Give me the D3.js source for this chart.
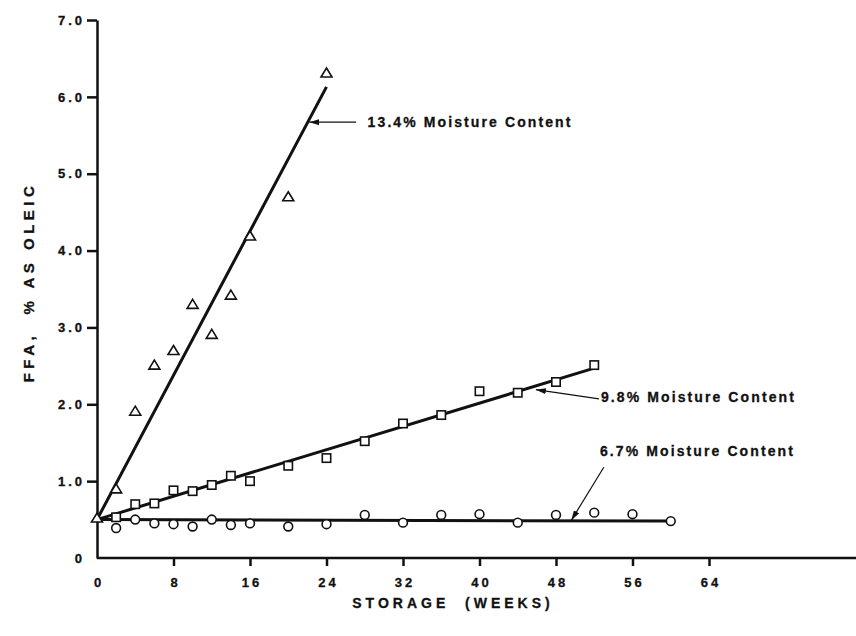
<!DOCTYPE html>
<html>

<head>
    <meta charset="utf-8">
    <title>FFA vs storage</title>
    <script src="https://d3js.org/d3.v7.min.js"></script>
    <style>
        body { margin: 0; background: #fff; }
        svg text {
            font-family: "Liberation Sans", Arial, sans-serif;
            font-weight: bold;
            fill: #111;
            stroke: #111;
            stroke-width: 0.3px;
            white-space: pre;
        }
        .axis path, .axis line {
            fill: none;
            stroke: #111;
            stroke-width: 2.5px;
        }
        .axis text { font-size: 13px; letter-spacing: 3px; }
        .fit { fill: none; stroke: #111; stroke-width: 3px; }
        .pt { fill: #fff; stroke: #111; stroke-width: 1.6px; }
        .arrow { stroke: #111; stroke-width: 1.2px; }
        .note { font-size: 14px; letter-spacing: 2.1px; }
        .xtitle { font-size: 14px; letter-spacing: 4px; }
        .ytitle { font-size: 15px; letter-spacing: 4.5px; }
    </style>
</head>

<body>
    <script>
        let width = 856;
        let height = 636;

        // tick labels
        let xTicks = [0, 8, 16, 24, 32, 40, 48, 56, 64];
        let yTicks = [0, 1, 2, 3, 4, 5, 6, 7];

        // 13.4% moisture (triangles)
        let weeks134 = [0, 2, 4, 6, 8, 10, 12, 14, 16, 20, 24];
        let ffa134 = [0.52, 0.90, 1.91, 2.51, 2.70, 3.30, 2.91, 3.42, 4.19, 4.70, 6.31];

        // 9.8% moisture (squares)
        let weeks98 = [2, 4, 6, 8, 10, 12, 14, 16, 20, 24, 28, 32, 36, 40, 44, 48, 52];
        let ffa98 = [0.53, 0.70, 0.71, 0.88, 0.87, 0.95, 1.07, 1.00, 1.20, 1.30, 1.52, 1.75, 1.86, 2.17, 2.15, 2.29, 2.51];

        // 6.7% moisture (circles)
        let weeks67 = [2, 4, 6, 8, 10, 12, 14, 16, 20, 24, 28, 32, 36, 40, 44, 48, 52, 56, 60];
        let ffa67 = [0.39, 0.50, 0.45, 0.44, 0.41, 0.50, 0.43, 0.45, 0.41, 0.44, 0.56, 0.46, 0.56, 0.57, 0.46, 0.56, 0.59, 0.57, 0.48];

        // fitted lines, [week, ffa] end points
        let fit134 = [[0, 0.5], [24, 6.13]];
        let fit98 = [[0, 0.5], [52, 2.47]];
        let fit67 = [[0, 0.5], [60, 0.48]];

        // annotation labels: text at (week, ffa), arrow from tail to head
        let noteText = ["13.4% Moisture Content", "9.8% Moisture Content", "6.7% Moisture Content"];
        let noteAt = [[28.3, 5.67], [52.7, 2.09], [52.6, 1.39]];
        let noteTail = [[27.1, 5.67], [52.5, 2.07], [53.0, 1.18]];
        let noteHead = [[22.2, 5.67], [45.9, 2.19], [49.6, 0.49]];

        let svg = d3.select('body').append('svg')
            .attr('width', width)
            .attr('height', height);

        svg.append("defs").append("marker")
            .attr("id", "head")
            .attr("viewBox", "0 0 10 6")
            .attr("refX", 10)
            .attr("refY", 3)
            .attr("markerWidth", 10)
            .attr("markerHeight", 6)
            .attr("markerUnits", "userSpaceOnUse")
            .attr("orient", "auto")
            .append("path")
            .attr("d", "M0,0L10,3L0,6Z")
            .attr("fill", "#111");

        let x = d3.scaleLinear().domain([0, 64]).range([97, 709]);
        let y = d3.scaleLinear().domain([0, 7]).range([558, 20]);

        // x axis, line runs to the right edge
        let xAxis = svg.append("g")
            .attr("class", "x axis")
            .attr("transform", "translate(0," + y(0) + ")")
            .call(d3.axisBottom(x).tickValues(xTicks).tickSize(8).tickSizeOuter(0).tickPadding(12));
        xAxis.select(".domain").attr("d", "M" + x(0) + ",0H" + width);
        xAxis.selectAll(".tick line").filter(d => d === 0).remove();
        xAxis.selectAll(".tick text").attr("dx", "1.5px");

        let yAxis = svg.append("g")
            .attr("class", "y axis")
            .attr("transform", "translate(" + x(0) + ",0)")
            .call(d3.axisLeft(y).tickValues(yTicks).tickSize(10).tickSizeOuter(0).tickPadding(2)
                .tickFormat(d => d === 0 ? "0" : d3.format(".1f")(d)));
        yAxis.selectAll(".tick line").filter(d => d === 0).remove();
        yAxis.selectAll(".tick").filter(d => d === 0).select("text").attr("x", -12);

        // fitted lines
        let line = d3.line().x(d => x(d[0])).y(d => y(d[1]));
        svg.selectAll("path.fit")
            .data([fit134, fit98, fit67])
            .join("path")
            .attr("class", "fit")
            .attr("d", line);

        // circles
        svg.selectAll("circle.pt")
            .data(d3.zip(weeks67, ffa67))
            .join("circle")
            .attr("class", "pt")
            .attr("cx", d => x(d[0]))
            .attr("cy", d => y(d[1]))
            .attr("r", 4.4);

        // squares
        svg.selectAll("rect.pt")
            .data(d3.zip(weeks98, ffa98))
            .join("rect")
            .attr("class", "pt")
            .attr("x", d => x(d[0]) - 4.2)
            .attr("y", d => y(d[1]) - 4.2)
            .attr("width", 8.4)
            .attr("height", 8.4);

        // triangles
        svg.selectAll("path.tri")
            .data(d3.zip(weeks134, ffa134))
            .join("path")
            .attr("class", "pt tri")
            .attr("d", d => {
                let cx = x(d[0]), cy = y(d[1]);
                return "M" + cx + "," + (cy - 5) + "L" + (cx + 5.5) + "," + (cy + 4) + "L" + (cx - 5.5) + "," + (cy + 4) + "Z";
            });

        // annotations
        svg.selectAll("line.arrow")
            .data(d3.range(noteText.length))
            .join("line")
            .attr("class", "arrow")
            .attr("x1", i => x(noteTail[i][0]))
            .attr("y1", i => y(noteTail[i][1]))
            .attr("x2", i => x(noteHead[i][0]))
            .attr("y2", i => y(noteHead[i][1]))
            .attr("marker-end", "url(#head)");

        svg.selectAll("text.note")
            .data(d3.range(noteText.length))
            .join("text")
            .attr("class", "note")
            .attr("x", i => x(noteAt[i][0]))
            .attr("y", i => y(noteAt[i][1]))
            .attr("dy", "0.36em")
            .text(i => noteText[i]);

        // axis titles
        svg.append("text")
            .attr("class", "xtitle")
            .attr("x", 453)
            .attr("y", 608)
            .attr("text-anchor", "middle")
            .text("STORAGE  (WEEKS)");

        svg.append("text")
            .attr("class", "ytitle")
            .attr("transform", "translate(34,282) rotate(-90)")
            .attr("text-anchor", "middle")
            .text("FFA,  % AS OLEIC");
    </script>
</body>

</html>
